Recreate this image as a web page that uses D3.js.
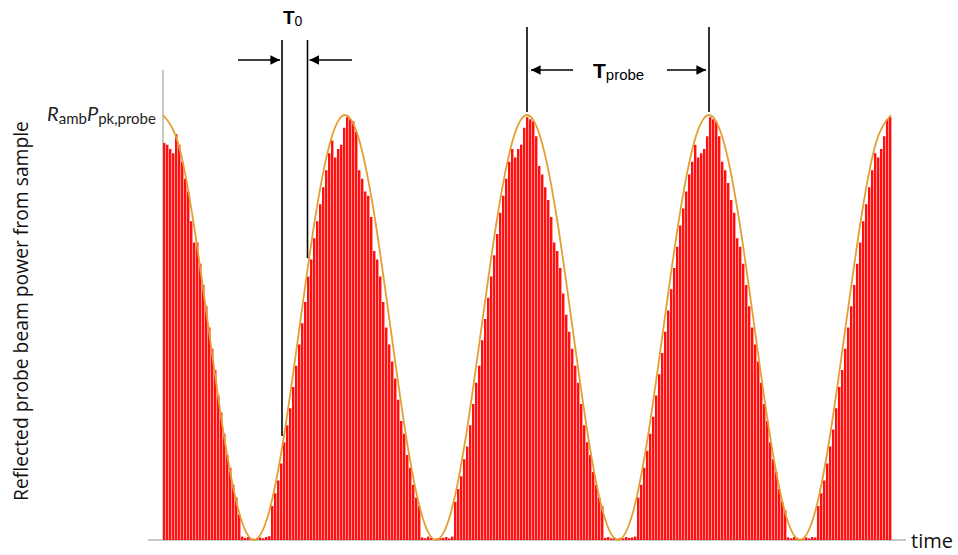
<!DOCTYPE html>
<html>
<head>
<meta charset="utf-8">
<script src="https://cdn.jsdelivr.net/npm/d3@7"></script>
<style>
  html, body { margin: 0; padding: 0; background: #fff; }
  svg { display: block; }
</style>
</head>
<body>
<svg id="chart" width="958" height="555"></svg>
<script>
// Reflected power of each probe pulse, as a fraction of R_amb * P_pk,probe
const barLevels = [
  // first (half) lobe, falling
  .934,.93,.92,.91,.955,.93,.89,.85,.82,.75,.70,.70,.65,.60,.55,.50,.45,.40,.34,.30,.25,.20,.17,.13,.10,.06,
  // trough
  .008,.005,.007,.004,.003,.005,.006,.004,.007,.009,
  // second lobe
  .08,.11,.14,.18,.23,.27,.31,.36,.41,.46,
  .51,.56,.62,.66,.71,.75,.79,.83,.87,.91,
  .94,.90,.92,.93,.97,.995,.99,.985,.96,.87,
  .85,.82,.81,.76,.68,.66,.62,.56,.50,.46,
  .42,.38,.33,.28,.25,.20,.17,.13,.10,.08,
  // trough
  .006,.004,.008,.005,.003,.004,.006,.005,.007,.004,.008,
  // third lobe
  .09,.12,.15,.19,.22,.27,.32,.37,.41,.47,
  .52,.57,.62,.67,.72,.77,.81,.85,.89,.92,
  .90,.92,.93,.97,.995,.99,.985,.95,.88,.86,
  .83,.80,.76,.70,.68,.64,.58,.53,.49,.45,
  .41,.37,.32,.27,.23,.20,.16,.13,.10,.08,
  // trough
  .005,.007,.004,.006,.003,.005,.004,.007,.005,.006,.008,
  // fourth lobe
  .10,.13,.17,.21,.25,.29,.34,.39,.44,.49,
  .54,.59,.64,.69,.74,.78,.82,.86,.89,.93,
  .90,.91,.92,.95,.995,.99,.985,.95,.89,.87,
  .84,.80,.77,.71,.69,.65,.60,.55,.50,.46,
  .42,.37,.32,.28,.23,.19,.16,.12,.09,.07,
  // trough
  .006,.004,.007,.005,.003,.005,.006,.004,.007,.006,
  // fifth (half) lobe, rising
  .08,.11,.14,.18,.22,.26,.31,.36,.40,.45,
  .50,.55,.60,.65,.70,.75,.79,.83,.87,.91,
  .90,.92,.95,.99,.995
];

// Probe envelope, sampled every 1/12 of a probe period over four periods
const envelopeLevels = [
  1,.933,.75,.5,.25,.067,0,.067,.25,.5,.75,.933,
  1,.933,.75,.5,.25,.067,0,.067,.25,.5,.75,.933,
  1,.933,.75,.5,.25,.067,0,.067,.25,.5,.75,.933,
  1,.933,.75,.5,.25,.067,0,.067,.25,.5,.75,.933,
  1
];

const pulsesPerProbePeriod = 60.67;
const probePeriods = 4;
const envelopeStepsPerPeriod = 12;

const axisTitleY = "Reflected probe beam power from sample";
const axisTitleX = "time";

const svg = d3.select("#chart");

const x = d3.scaleLinear()
  .domain([0, probePeriods * pulsesPerProbePeriod])
  .range([163, 891]);
const y = d3.scaleLinear().domain([0, 1]).range([540, 115]);

// axes (plain lines, no ticks)
svg.append("line")
  .attr("x1", 148).attr("x2", 906).attr("y1", y(0)).attr("y2", y(0))
  .attr("stroke", "#c9c9c9").attr("stroke-width", 2);
svg.append("line")
  .attr("x1", x(0)).attr("x2", x(0)).attr("y1", 70).attr("y2", y(0))
  .attr("stroke", "#c9c9c9").attr("stroke-width", 2);

// pulses
const step = x(1) - x(0);
svg.append("g").selectAll("rect")
  .data(barLevels)
  .join("rect")
  .attr("x", (d, i) => x(i))
  .attr("y", d => y(d))
  .attr("width", step - 0.55)
  .attr("height", d => y(0) - y(d))
  .attr("fill", "#ff1010");

// envelope
const envLine = d3.line()
  .x((d, i) => x(i * pulsesPerProbePeriod / envelopeStepsPerPeriod))
  .y(d => y(d))
  .curve(d3.curveNatural);
svg.append("path")
  .datum(envelopeLevels)
  .attr("d", envLine)
  .attr("fill", "none")
  .attr("stroke", "#e3a032")
  .attr("stroke-width", 1.8);

// arrow head marker
svg.append("defs").append("marker")
  .attr("id", "head")
  .attr("viewBox", "0 0 10 10")
  .attr("refX", 10).attr("refY", 5)
  .attr("markerWidth", 6).attr("markerHeight", 6)
  .attr("markerUnits", "strokeWidth")
  .attr("orient", "auto")
  .append("path").attr("d", "M0,0 L10,5 L0,10 Z").attr("fill", "#000");

function vline(xp, y1, y2) {
  svg.append("line").attr("x1", xp).attr("x2", xp).attr("y1", y1).attr("y2", y2)
    .attr("stroke", "#000").attr("stroke-width", 1.6);
}
function arrow(x1, x2, yp) {
  svg.append("line").attr("x1", x1).attr("x2", x2).attr("y1", yp).attr("y2", yp)
    .attr("stroke", "#000").attr("stroke-width", 1.6)
    .attr("marker-end", "url(#head)");
}

// pulse spacing T0
vline(282, 40, 436);
vline(307.5, 40, 258);
arrow(238, 280, 60);
arrow(352, 309.5, 60);
const t0 = svg.append("text").attr("x", 283).attr("y", 24)
  .attr("font-family", "Liberation Sans, Arial, sans-serif").attr("fill", "#000");
t0.append("tspan").attr("font-weight", "bold").attr("font-size", 19).text("T");
t0.append("tspan").attr("font-size", 14).attr("dy", 2).text("0");

// probe period
vline(x(pulsesPerProbePeriod * 2), 27, 112);
vline(x(pulsesPerProbePeriod * 3), 27, 112);
arrow(573, 531, 70);
arrow(667, 706, 70);
const tp = svg.append("text").attr("x", 593).attr("y", 78)
  .attr("font-family", "Liberation Sans, Arial, sans-serif").attr("fill", "#000");
tp.append("tspan").attr("font-weight", "bold").attr("font-size", 21).text("T");
tp.append("tspan").attr("font-size", 15).attr("dy", 2).text("probe");

// peak level label
const pk = svg.append("text").attr("x", 47).attr("y", 121)
  .attr("font-family", "Lato, Open Sans, sans-serif").attr("fill", "#222");
pk.append("tspan").attr("font-style", "italic").attr("font-size", 20).text("R");
pk.append("tspan").attr("font-size", 15).attr("dy", 3).text("amb");
pk.append("tspan").attr("font-style", "italic").attr("font-size", 20).attr("dy", -3).text("P");
pk.append("tspan").attr("font-size", 15).attr("dy", 3).text("pk,probe");

// axis titles
svg.append("text")
  .attr("transform", "translate(28,311) rotate(-90)")
  .attr("text-anchor", "middle")
  .attr("font-family", "Open Sans, sans-serif").attr("font-size", 19.3)
  .attr("fill", "#111")
  .text(axisTitleY);
svg.append("text")
  .attr("x", 911).attr("y", 548)
  .attr("font-family", "Open Sans, sans-serif").attr("font-size", 20)
  .attr("fill", "#111")
  .text(axisTitleX);
</script>
</body>
</html>
